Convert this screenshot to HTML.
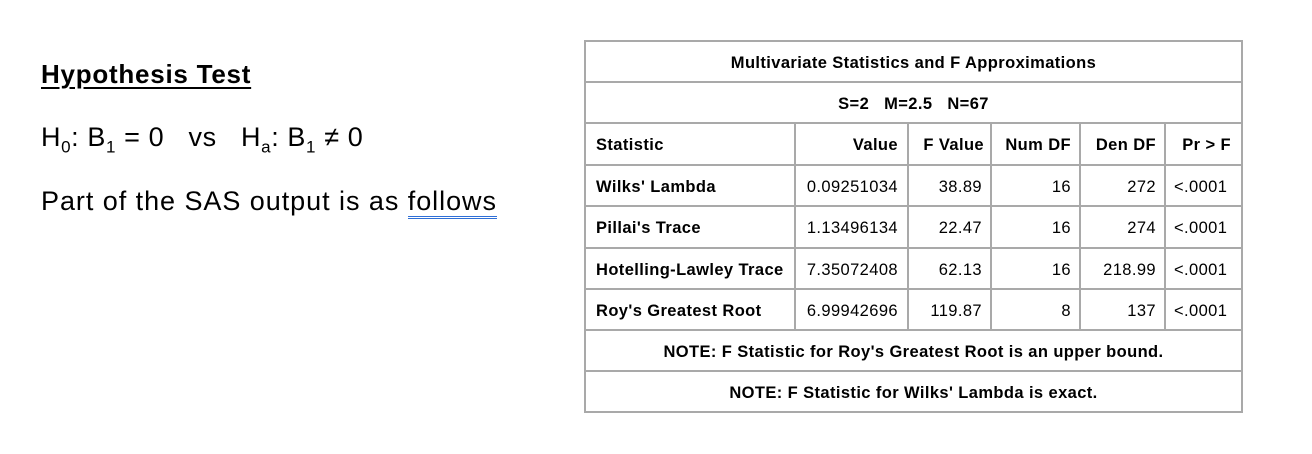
<!DOCTYPE html>
<html><head><meta charset="utf-8"><style>
body{margin:0;width:1312px;height:454px;background:#fff;position:relative;overflow:hidden;font-family:"Liberation Sans",Arial,sans-serif;}
.t{position:absolute;white-space:nowrap;color:#000}
.left{font-size:27px;letter-spacing:0.4px}
.h{position:absolute;background:#a9a9a9;height:2px}
.v{position:absolute;background:#a9a9a9;width:2px}
.c{position:absolute;font-size:16.5px;height:41px;line-height:44px;white-space:nowrap;color:#000;letter-spacing:0.4px}
.b{font-weight:bold}
.r{text-align:right}
</style></head><body>
<div class="t left b" style="left:41px;top:59px;font-size:26px;letter-spacing:0.75px;text-decoration:underline;text-underline-offset:4px">Hypothesis Test</div>
<div class="t left" style="left:41px;top:122px;letter-spacing:0.6px">H<sub style="font-size:17px">0</sub>: B<sub style="font-size:17px">1</sub> = 0 &nbsp;&nbsp;vs &nbsp;&nbsp;H<sub style="font-size:17px">a</sub>: B<sub style="font-size:17px">1</sub> ≠ 0</div>
<div class="t left" style="left:41px;top:186px;letter-spacing:0.95px">Part of the SAS output is as <span style="border-bottom:3px double #2f6fd6">follows</span></div>

<div>
<div class="h" style="left:584px;width:659px;top:40px"></div>
<div class="h" style="left:584px;width:659px;top:81px"></div>
<div class="h" style="left:584px;width:659px;top:122px"></div>
<div class="h" style="left:584px;width:659px;top:164px"></div>
<div class="h" style="left:584px;width:659px;top:205px"></div>
<div class="h" style="left:584px;width:659px;top:247px"></div>
<div class="h" style="left:584px;width:659px;top:288px"></div>
<div class="h" style="left:584px;width:659px;top:329px"></div>
<div class="h" style="left:584px;width:659px;top:370px"></div>
<div class="h" style="left:584px;width:659px;top:411px"></div>
<div class="v" style="left:584px;top:40px;height:373px"></div>
<div class="v" style="left:1241px;top:40px;height:373px"></div>
<div class="v" style="left:794px;top:122px;height:209px"></div>
<div class="v" style="left:907px;top:122px;height:209px"></div>
<div class="v" style="left:990px;top:122px;height:209px"></div>
<div class="v" style="left:1079px;top:122px;height:209px"></div>
<div class="v" style="left:1164px;top:122px;height:209px"></div>

<div class="c b" style="left:584px;width:659px;top:41px;text-align:center">Multivariate Statistics and F Approximations</div>
<div class="c b" style="left:584px;width:659px;top:82px;text-align:center">S=2 &nbsp;&nbsp;M=2.5 &nbsp;&nbsp;N=67</div>

<div class="c b" style="left:596px;top:123px">Statistic</div>
<div class="c b r" style="left:796px;width:102px;top:123px">Value</div>
<div class="c b r" style="left:907px;width:77px;top:123px">F Value</div>
<div class="c b r" style="left:990px;width:81px;top:123px">Num DF</div>
<div class="c b r" style="left:1079px;width:77px;top:123px">Den DF</div>
<div class="c b r" style="left:1166px;width:65px;top:123px">Pr &gt; F</div>

<div class="c b" style="left:596px;top:165px">Wilks' Lambda</div>
<div class="c r" style="left:796px;width:102px;top:165px">0.09251034</div>
<div class="c r" style="left:909px;width:73px;top:165px">38.89</div>
<div class="c r" style="left:992px;width:79px;top:165px">16</div>
<div class="c r" style="left:1081px;width:75px;top:165px">272</div>
<div class="c" style="left:1174px;top:165px">&lt;.0001</div>

<div class="c b" style="left:596px;top:206px">Pillai's Trace</div>
<div class="c r" style="left:796px;width:102px;top:206px">1.13496134</div>
<div class="c r" style="left:909px;width:73px;top:206px">22.47</div>
<div class="c r" style="left:992px;width:79px;top:206px">16</div>
<div class="c r" style="left:1081px;width:75px;top:206px">274</div>
<div class="c" style="left:1174px;top:206px">&lt;.0001</div>

<div class="c b" style="left:596px;top:248px">Hotelling-Lawley Trace</div>
<div class="c r" style="left:796px;width:102px;top:248px">7.35072408</div>
<div class="c r" style="left:909px;width:73px;top:248px">62.13</div>
<div class="c r" style="left:992px;width:79px;top:248px">16</div>
<div class="c r" style="left:1081px;width:75px;top:248px">218.99</div>
<div class="c" style="left:1174px;top:248px">&lt;.0001</div>

<div class="c b" style="left:596px;top:289px">Roy's Greatest Root</div>
<div class="c r" style="left:796px;width:102px;top:289px">6.99942696</div>
<div class="c r" style="left:909px;width:73px;top:289px">119.87</div>
<div class="c r" style="left:992px;width:79px;top:289px">8</div>
<div class="c r" style="left:1081px;width:75px;top:289px">137</div>
<div class="c" style="left:1174px;top:289px">&lt;.0001</div>

<div class="c b" style="left:584px;width:659px;top:330px;text-align:center">NOTE: F Statistic for Roy's Greatest Root is an upper bound.</div>
<div class="c b" style="left:584px;width:659px;top:371px;text-align:center">NOTE: F Statistic for Wilks' Lambda is exact.</div>
</div>
</body></html>
